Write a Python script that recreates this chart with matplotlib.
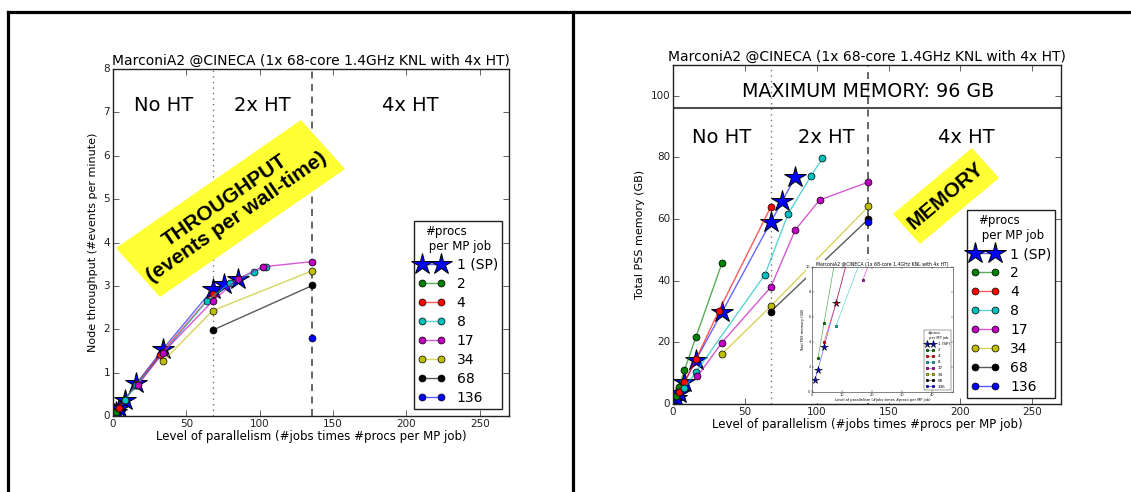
import matplotlib
matplotlib.use('Agg')
import matplotlib.pyplot as plt
from matplotlib.colors import to_rgba
from matplotlib.patches import Polygon, Rectangle
from matplotlib.lines import Line2D

# ---------------- data ----------------
labels = ['1 (SP)', '2', '4', '8', '17', '34', '68', '136']
colors = ['#0000ff', '#008000', '#ff0000', '#00bfbf', '#bf00bf', '#bfbf00', '#000000', '#0000ff']

x_sp = [1, 2, 4, 8, 16, 34, 68, 76, 85]
x_2 = [2, 4, 8, 16, 34]
x_4 = [4, 8, 16, 32, 68]
x_8 = [8, 16, 64, 80, 96, 104]
x_17 = [17, 34, 68, 85, 102, 136]
x_34 = [34, 68, 136]
x_68 = [68, 136]
x_136 = [136]

tp_sp = [0.05, 0.10, 0.19, 0.38, 0.75, 1.54, 2.92, 3.05, 3.15]
tp_2 = [0.10, 0.19, 0.37, 0.72, 1.48]
tp_4 = [0.19, 0.38, 0.73, 1.41, 2.82]
tp_8 = [0.37, 0.72, 2.65, 3.07, 3.31, 3.44]
tp_17 = [0.71, 1.46, 2.65, 3.16, 3.44, 3.56]
tp_34 = [1.26, 2.43, 3.35]
tp_68 = [1.98, 3.01]
tp_136 = [1.79]

mem_sp = [1.0, 1.8, 3.6, 7.1, 14.3, 29.7, 59.0, 65.8, 73.6]
mem_2 = [2.7, 5.5, 11.0, 21.8, 45.6]
mem_4 = [4.0, 7.1, 14.5, 30.3, 63.9]
mem_8 = [5.3, 10.4, 42.0, 61.6, 74.0, 79.7]
mem_17 = [9.0, 19.9, 37.9, 56.4, 66.2, 72.0]
mem_34 = [16.2, 31.7, 64.1]
mem_68 = [30.0, 60.0]
mem_136 = [59.0]

xs_all = [x_sp, x_2, x_4, x_8, x_17, x_34, x_68, x_136]
tp_all = [tp_sp, tp_2, tp_4, tp_8, tp_17, tp_34, tp_68, tp_136]
mem_all = [mem_sp, mem_2, mem_4, mem_8, mem_17, mem_34, mem_68, mem_136]

title = 'MarconiA2 @CINECA (1x 68-core 1.4GHz KNL with 4x HT)'
xlabel = 'Level of parallelism (#jobs times #procs per MP job)'
leg_title = '#procs\n per MP job'

# ---------------- style ----------------
plt.style.use('classic')
plt.rcParams.update({
    'font.family': 'DejaVu Sans',
    'figure.facecolor': 'white',
    'savefig.facecolor': 'white',
    'axes.linewidth': 1.0,
    'axes.edgecolor': '#222222',
    'xtick.color': '#222222',
    'ytick.color': '#222222',
})

W, H = 1131, 492
fig = plt.figure(figsize=(W / 100, H / 100), dpi=100)


def fx(x):
    return x / W


def fy(y):
    return 1 - y / H


def draw_series(ax, ydata, star_ms, circ_ms, lw, mew):
    for lab, col, xs, ys in zip(labels, colors, xs_all, ydata):
        if lab == '1 (SP)':
            ax.plot(xs, ys, '-', color=to_rgba(col, 0.6), lw=lw, marker='*',
                    ms=star_ms, mfc=col, mec='k', mew=mew * 1.4, label=lab)
        else:
            ax.plot(xs, ys, '-', color=to_rgba(col, 0.65), lw=lw, marker='o',
                    ms=circ_ms, mfc=col, mec='k', mew=mew, label=lab)


def add_legend(ax, fs, tfs, **kw):
    leg = ax.legend(loc='lower right', fontsize=fs, title=leg_title,
                    numpoints=2, fancybox=False, framealpha=1, **kw)
    leg.get_title().set_fontsize(tfs)
    leg.get_title().set_multialignment('left')
    leg.get_frame().set_edgecolor('#222222')
    return leg


# ---------------- left: throughput ----------------
ax1 = fig.add_axes([fx(113), fy(416), (509 - 113) / W, (416 - 69) / H])
ax1.axvline(68, color='0.45', ls=':', lw=1.0)
ax1.axvline(136, color='0.35', ls='--', lw=1.3, dashes=(5, 4))
draw_series(ax1, tp_all, 16, 5, 1.0, 0.5)
ax1.set_xlim(0, 270)
ax1.set_ylim(0, 8)
ax1.set_xticks([0, 50, 100, 150, 200, 250])
ax1.set_yticks(range(0, 9))
ax1.tick_params(labelsize=7.5, pad=2)
ax1.set_title(title, fontsize=10, pad=3)
ax1.set_xlabel(xlabel, fontsize=8.5, labelpad=1)
ax1.set_ylabel('Node throughput (#events per minute)', fontsize=8, labelpad=4)
for tx, t in [(34.5, 'No HT'), (101.5, '2x HT'), (203, '4x HT')]:
    ax1.text(tx, 7.17, t, fontsize=14, ha='center', va='center')
add_legend(ax1, 10, 8.5, borderaxespad=0.5, labelspacing=0.36, borderpad=0.3)

# ---------------- right: memory ----------------
ax2 = fig.add_axes([fx(673), fy(404), (1061 - 673) / W, (404 - 65) / H])
ax2.axvline(68, color='0.45', ls=':', lw=1.0)
ax2.axvline(136, color='0.35', ls='--', lw=1.3, dashes=(5, 4))
ax2.axhline(96, color='0.3', lw=1.5)
draw_series(ax2, mem_all, 16, 5, 1.0, 0.5)
ax2.set_xlim(0, 270)
ax2.set_ylim(0, 110)
ax2.set_xticks([0, 50, 100, 150, 200, 250])
ax2.set_yticks([0, 20, 40, 60, 80, 100])
ax2.tick_params(labelsize=7.5, pad=2)
ax2.set_title(title, fontsize=10, pad=3)
ax2.set_xlabel(xlabel, fontsize=8.5, labelpad=1)
ax2.set_ylabel('Total PSS memory (GB)', fontsize=8, labelpad=4)
ax2.text(136, 101.5, 'MAXIMUM MEMORY: 96 GB', fontsize=13.7, ha='center', va='center')
for tx, t in [(34, 'No HT'), (107, '2x HT'), (204, '4x HT')]:
    ax2.text(tx, 86.5, t, fontsize=14, ha='center', va='center')
add_legend(ax2, 10, 8.5, borderaxespad=0.4, labelspacing=0.36, borderpad=0.3)

# ---------------- inset (picture in picture) ----------------
fig.add_artist(Rectangle((fx(806), fy(403)), (957 - 806) / W, (403 - 260) / H,
                         transform=fig.transFigure, facecolor='white',
                         edgecolor='none', zorder=2))
ax3 = fig.add_axes([fx(812), fy(392), (953 - 812) / W, (392 - 267) / H])
ax3.set_zorder(5)
draw_series(ax3, mem_all, 5.5, 2.0, 0.5, 0.3)
ax3.set_xlim(0, 47)
ax3.set_ylim(0, 10)
ax3.set_xticks([0, 10, 20, 30, 40])
ax3.set_yticks([0, 2, 4, 6, 8, 10])
ax3.tick_params(labelsize=2.6, pad=1, length=1.5, width=0.3)
for sp in ax3.spines.values():
    sp.set_linewidth(0.4)
ax3.set_title(title, fontsize=3.3, pad=1)
ax3.set_xlabel(xlabel, fontsize=2.6, labelpad=0.5)
ax3.set_ylabel('Total PSS memory (GB)', fontsize=2.6, labelpad=1)
lg3 = add_legend(ax3, 3.0, 2.6, borderaxespad=0.4)
lg3.get_frame().set_linewidth(0.3)

# ---------------- yellow call-outs ----------------
tp_box = [(116, 248), (301, 120), (345, 169), (160, 297)]
fig.add_artist(Polygon([(fx(x), fy(y)) for x, y in tp_box], closed=True,
                       transform=fig.transFigure, facecolor='#ffff33',
                       edgecolor='none', zorder=3))
fig.text(fx(231), fy(209), 'THROUGHPUT\n(events per wall-time)', rotation=34.7,
         rotation_mode='anchor', ha='center', va='center', multialignment='center',
         fontsize=15, fontweight='bold', family='Liberation Sans',
         linespacing=1.1, zorder=4)

mem_box = [(893, 214), (972, 148), (999, 178), (920, 244)]
fig.add_artist(Polygon([(fx(x), fy(y)) for x, y in mem_box], closed=True,
                       transform=fig.transFigure, facecolor='#ffff33',
                       edgecolor='none', zorder=3))
fig.text(fx(946), fy(196), 'MEMORY', rotation=40, rotation_mode='anchor',
         ha='center', va='center', fontsize=15, fontweight='bold',
         family='Liberation Sans', zorder=4)

# ---------------- slide borders ----------------
for xs_, ys_ in [([8, 8], [12, 492]), ([573, 573], [12, 492]), ([8, W], [12, 12])]:
    fig.add_artist(Line2D([fx(v) for v in xs_], [fy(v) for v in ys_],
                          transform=fig.transFigure, color='k', lw=2.3, zorder=6))

fig.savefig('out.png', dpi=100)
